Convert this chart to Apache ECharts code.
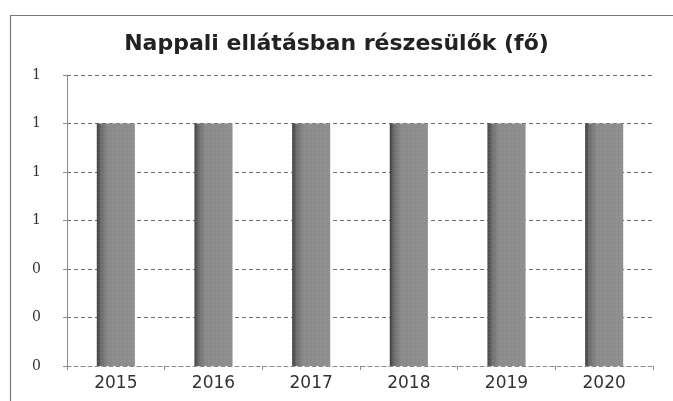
<!DOCTYPE html>
<html>
<head>
<meta charset="utf-8">
<script src="https://cdn.jsdelivr.net/npm/echarts@6/dist/echarts.min.js"></script>
<style>
  html, body { margin: 0; padding: 0; background: #fff; }
  #chart { width: 673px; height: 401px; }
</style>
</head>
<body>
<div id="chart"></div>
<script>
// Day-care participants per year
const years = ['2015', '2016', '2017', '2018', '2019', '2020'];
const participants = [1, 1, 1, 1, 1, 1];
const yTicks = { min: 0, max: 1.2, step: 0.2 };
const chartTitle = 'Nappali ellátásban részesülők (fő)';

const chart = echarts.init(document.getElementById('chart'), null, { renderer: 'canvas' });

// shaded grey columns, darker along the left edge
const barFill = new echarts.graphic.LinearGradient(0, 0, 1, 0, [
  { offset: 0, color: '#3e3e3e' },
  { offset: 0.12, color: '#6e6e6e' },
  { offset: 0.3, color: '#8a8a8a' },
  { offset: 1, color: '#8e8e8e' }
]);

chart.setOption({
  animation: false,
  backgroundColor: '#ffffff',
  title: {
    text: chartTitle,
    left: 'center',
    top: 28,
    textStyle: {
      fontFamily: 'DejaVu Sans, sans-serif',
      fontWeight: 'bold',
      fontSize: 22,
      color: '#222'
    }
  },
  graphic: [
    {
      type: 'rect',
      shape: { x: 10.5, y: 15.5, width: 700, height: 420 },
      style: { fill: 'none', stroke: '#7a7a7a', lineWidth: 1.2 },
      silent: true
    }
  ],
  grid: { left: 67, right: 20, top: 75, bottom: 35 },
  xAxis: {
    type: 'category',
    data: years,
    axisLine: { show: true, lineStyle: { color: '#8a8a8a', type: [4, 3] } },
    axisTick: { show: true, length: 4, lineStyle: { color: '#8a8a8a' } },
    axisLabel: {
      margin: 9,
      fontFamily: 'DejaVu Sans, sans-serif',
      fontSize: 17,
      color: '#333'
    },
    splitLine: { show: false }
  },
  yAxis: {
    type: 'value',
    min: yTicks.min,
    max: yTicks.max,
    interval: yTicks.step,
    axisLine: { show: true, lineStyle: { color: '#8a8a8a' } },
    axisTick: { show: true, length: 4, lineStyle: { color: '#8a8a8a' } },
    axisLabel: {
      margin: 26,
      fontFamily: 'DejaVu Serif, serif',
      fontSize: 14,
      color: '#333',
      formatter: v => v.toFixed(0)
    },
    splitLine: { show: true, lineStyle: { color: '#6f6f6f', type: [4, 3], width: 1 } }
  },
  series: [
    {
      type: 'bar',
      data: participants,
      barWidth: '39%',
      itemStyle: {
        color: barFill,
        decal: {
          symbol: 'rect',
          symbolSize: 0.5,
          dashArrayX: [2, 2],
          dashArrayY: [2, 2],
          color: 'rgba(200,200,200,0.35)'
        }
      }
    }
  ]
});
</script>
</body>
</html>
